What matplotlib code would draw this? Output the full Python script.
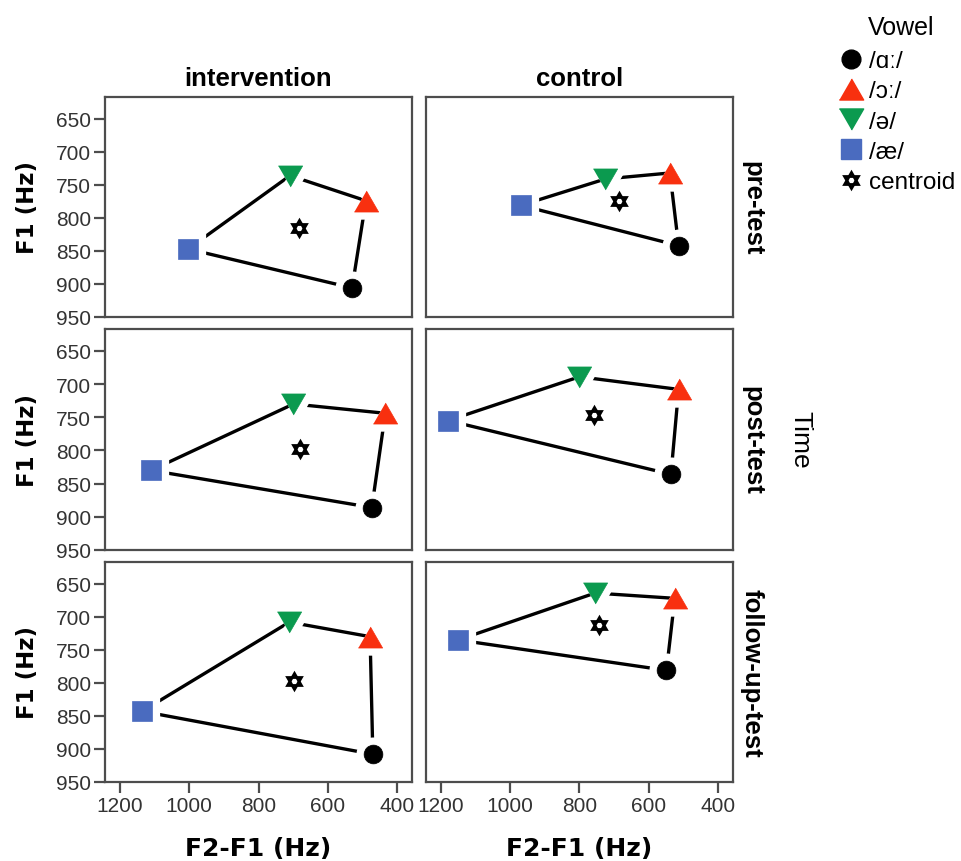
import numpy as np
import matplotlib
matplotlib.use("Agg")
import matplotlib.pyplot as plt
from matplotlib.lines import Line2D
from matplotlib.legend_handler import HandlerTuple

plt.rcParams["font.family"] = ["Liberation Sans", "DejaVu Sans"]

groups = ["intervention", "control"]
times = ["pre-test", "post-test", "follow-up-test"]
vowels = ["/ɑː/", "/ɔː/", "/ə/", "/æ/"]

# mean formants per panel, order: (pre, int), (pre, ctrl), (post, int), (post, ctrl), (fu, int), (fu, ctrl)
aa_f2f1 = [530, 514, 473, 536, 470, 549]
aa_f1 = [906, 842, 886, 836, 908, 781]
oo_f2f1 = [490, 539, 434, 514, 478, 525]
oo_f1 = [774, 732, 744, 708, 730, 672]
schwa_f2f1 = [709, 725, 699, 800, 711, 755]
schwa_f1 = [736, 741, 730, 689, 708, 664]
ae_f2f1 = [1003, 969, 1110, 1179, 1136, 1150]
ae_f1 = [847, 781, 830, 755, 843, 735]

x_ticks = [1200, 1000, 800, 600, 400]
y_ticks = [650, 700, 750, 800, 850, 900, 950]

tri_up = [(-1, -0.866), (1, -0.866), (0, 0.866)]
tri_dn = [(-1, 0.866), (1, 0.866), (0, -0.866)]
styles = {
    "/ɑː/": dict(marker="o", ms=13.5, color="black"),
    "/ɔː/": dict(marker=tri_up, ms=17.5, color="#f8300f"),
    "/ə/": dict(marker=tri_dn, ms=17.5, color="#0b9a4f"),
    "/æ/": dict(marker="s", ms=14, color="#4a6bbf"),
}
vx = {"/ɑː/": aa_f2f1, "/ɔː/": oo_f2f1, "/ə/": schwa_f2f1, "/æ/": ae_f2f1}
vy = {"/ɑː/": aa_f1, "/ɔː/": oo_f1, "/ə/": schwa_f1, "/æ/": ae_f1}
# polygon drawn ae -> schwa -> oo -> aa -> back to ae
ring = ["/æ/", "/ə/", "/ɔː/", "/ɑː/", "/æ/"]

W, H = 962, 862
fig = plt.figure(figsize=(W / 100, H / 100), dpi=100)

col_left = [105, 426]
col_w = 307
row_top = [98, 330, 563]
row_h = [220, 221, 220]

spine_col = "#4d4d4d"
star_kw = dict(ms=11.5, mfc="none", mec="black", mew=2.0)


def draw_centroid(ax, x, y):
    for ang in (0, 180):
        ax.plot([x], [y], linestyle="none", marker=(3, 0, ang), zorder=5, **star_kw)


for r, t in enumerate(times):
    for c, g in enumerate(groups):
        k = r * 2 + c
        ax = fig.add_axes([col_left[c] / W, 1 - (row_top[r] + row_h[r]) / H,
                           col_w / W, row_h[r] / H])
        ax.set_xlim(1243, 357)
        ax.set_ylim(950, 617)

        px = [vx[v][k] for v in ring]
        py = [vy[v][k] for v in ring]
        ax.plot(px, py, color="black", lw=2.4, zorder=2, solid_capstyle="butt")

        for v in vowels:
            st = styles[v]
            # white halo leaves a gap between polygon edge and marker
            ax.plot([vx[v][k]], [vy[v][k]], linestyle="none", marker=st["marker"],
                    ms=st["ms"], color="white", mec="white", mew=11, zorder=3)
            ax.plot([vx[v][k]], [vy[v][k]], linestyle="none", marker=st["marker"],
                    ms=st["ms"], color=st["color"], mec=st["color"], mew=0.5, zorder=4)

        cx = np.mean([vx[v][k] for v in vowels])
        cy = np.mean([vy[v][k] for v in vowels])
        draw_centroid(ax, cx, cy)

        for s in ax.spines.values():
            s.set_color(spine_col)
            s.set_linewidth(1.6)

        ax.tick_params(length=8, width=1.6, color=spine_col, labelsize=15,
                       labelcolor="#333333", pad=2)
        ax.set_xticks(x_ticks)
        ax.set_yticks(y_ticks)
        if c == 0:
            ax.set_ylabel("F1 (Hz)", fontsize=16.5, fontweight="bold",
                          family="DejaVu Sans", labelpad=12)
        else:
            ax.tick_params(axis="y", left=False, labelleft=False)
        if r == 2:
            ax.set_xlabel("F2-F1 (Hz)", fontsize=18, fontweight="bold",
                          family="DejaVu Sans", labelpad=15)
        else:
            ax.tick_params(axis="x", bottom=False, labelbottom=False)

        if r == 0:
            ax.set_title(g, fontsize=18.5, fontweight="bold", pad=9)
        if c == 1:
            ax.annotate(t, xy=(1, 0.5), xycoords="axes fraction", xytext=(5, 0),
                        textcoords="offset points", rotation=270, ha="left",
                        va="center", fontsize=18.5, fontweight="bold")

fig.text(800 / W, 1 - 440 / H, "Time", rotation=270, ha="center", va="center",
         fontsize=19)

# legend
fig.text(901 / W, 1 - 28 / H, "Vowel", ha="center", va="center", fontsize=18)
handles = []
for v in vowels:
    st = styles[v]
    handles.append(Line2D([], [], linestyle="none", marker=st["marker"], ms=st["ms"],
                          color=st["color"], mec=st["color"]))
cent = tuple(Line2D([], [], linestyle="none", marker=(3, 0, a), **star_kw)
             for a in (0, 180))
handles.append(cent)
fig.legend(handles, vowels + ["centroid"], loc="upper left",
           bbox_to_anchor=(841 / W, 1 - 51 / H), frameon=False,
           fontsize=17.5, handlelength=0.8, handletextpad=0.35,
           labelspacing=0.34, borderpad=0, borderaxespad=0,
           handler_map={tuple: HandlerTuple(ndivide=1, pad=0)})

fig.savefig("out.png", dpi=100)
